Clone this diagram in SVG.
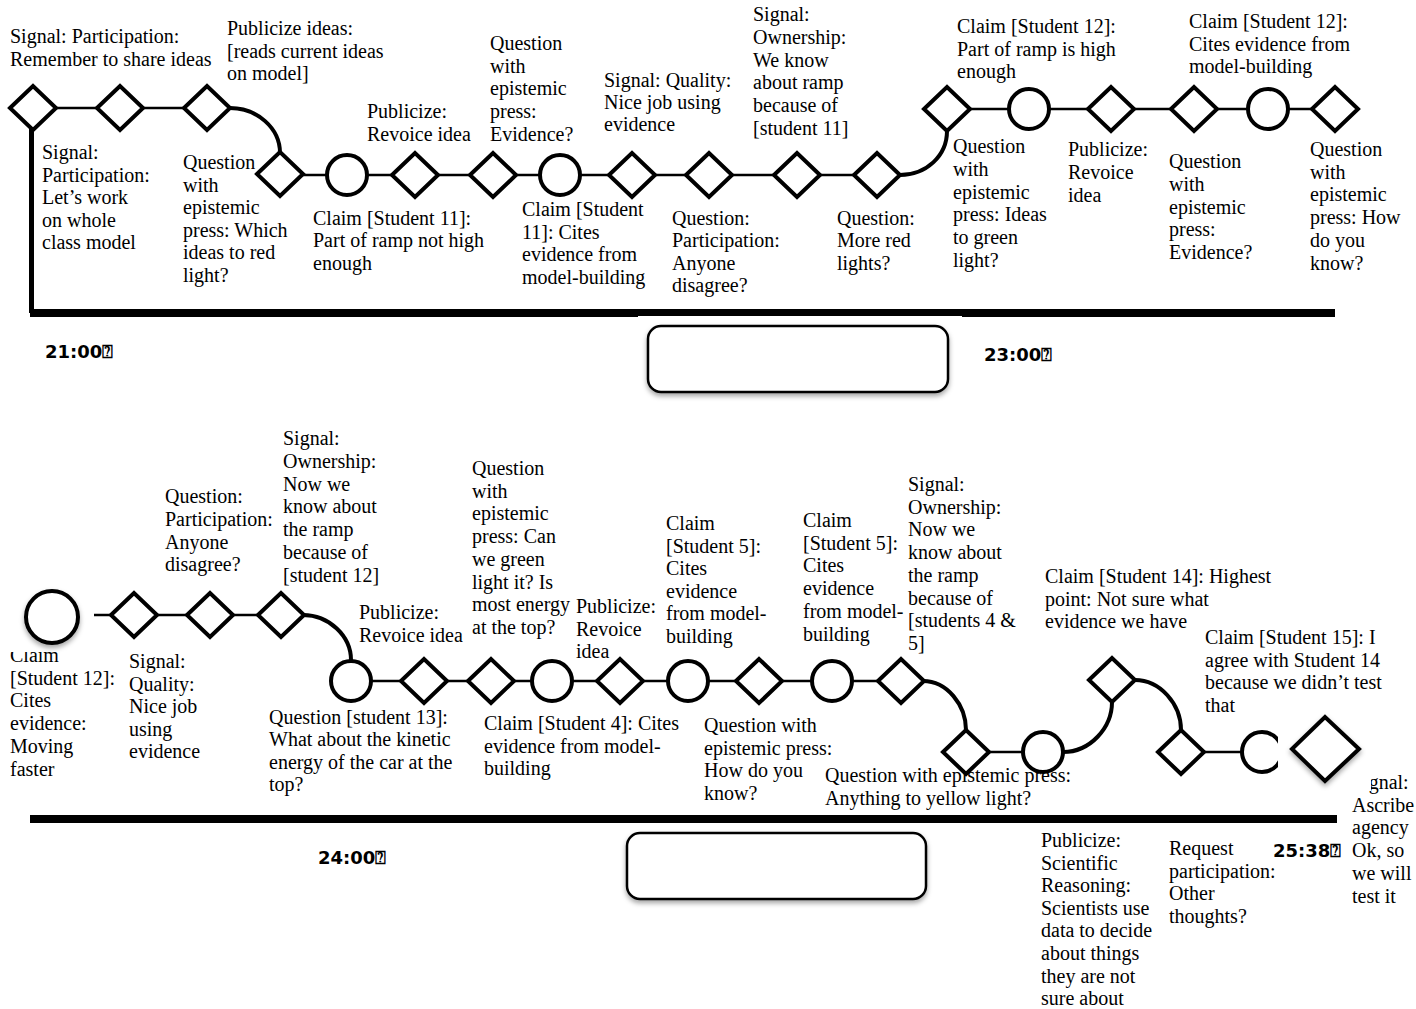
<svg xmlns="http://www.w3.org/2000/svg" xmlns:xlink="http://www.w3.org/1999/xlink" width="1416" height="1009" viewBox="0 0 1416 1009">
<style>
.t{font-family:"Liberation Serif","Times New Roman",serif;font-size:20px;fill:#000}
.tm{font-family:"DejaVu Sans",sans-serif;font-size:18px;font-weight:bold;fill:#000}
.d{fill:#fff;stroke:#000;stroke-width:4;stroke-linejoin:miter}
.c{fill:#fff;stroke:#000;stroke-width:4}
.ln{stroke:#000;stroke-width:2.5;fill:none}
.cv{stroke:#000;stroke-width:4;fill:none}
.box{fill:#fff;stroke:#000;stroke-width:2.5}
</style>
<defs>
<path id="dia" d="M-23,0 L0,-22 L23,0 L0,22 Z"/>
<filter id="sh" x="-30%" y="-30%" width="160%" height="170%">
<feDropShadow dx="0" dy="3" stdDeviation="2.5" flood-color="#000" flood-opacity="0.35"/>
</filter>
</defs>
<rect width="1416" height="1009" fill="#fff"/>

<g id="labels">
<text class="t" x="10" y="43"><tspan x="10">Signal: Participation:</tspan><tspan x="10" dy="22.5">Remember to share ideas</tspan></text>
<text class="t" x="227" y="35"><tspan x="227">Publicize ideas:</tspan><tspan x="227" dy="22.5">[reads current ideas</tspan><tspan x="227" dy="22.5">on model]</tspan></text>
<text class="t" x="42" y="159"><tspan x="42">Signal:</tspan><tspan x="42" dy="22.5">Participation:</tspan><tspan x="42" dy="22.5">Let’s work</tspan><tspan x="42" dy="22.5">on whole</tspan><tspan x="42" dy="22.5">class model</tspan></text>
<text class="t" x="183" y="169"><tspan x="183">Question</tspan><tspan x="183" dy="22.6">with</tspan><tspan x="183" dy="22.6">epistemic</tspan><tspan x="183" dy="22.6">press: Which</tspan><tspan x="183" dy="22.6">ideas to red</tspan><tspan x="183" dy="22.6">light?</tspan></text>
<text class="t" x="367" y="118"><tspan x="367">Publicize:</tspan><tspan x="367" dy="22.6">Revoice idea</tspan></text>
<text class="t" x="313" y="225"><tspan x="313">Claim [Student 11]:</tspan><tspan x="313" dy="22.4">Part of ramp not high</tspan><tspan x="313" dy="22.4">enough</tspan></text>
<text class="t" x="490" y="50"><tspan x="490">Question</tspan><tspan x="490" dy="22.7">with</tspan><tspan x="490" dy="22.7">epistemic</tspan><tspan x="490" dy="22.7">press:</tspan><tspan x="490" dy="22.7">Evidence?</tspan></text>
<text class="t" x="604" y="87"><tspan x="604">Signal: Quality:</tspan><tspan x="604" dy="22">Nice job using</tspan><tspan x="604" dy="22">evidence</tspan></text>
<text class="t" x="753" y="21"><tspan x="753">Signal:</tspan><tspan x="753" dy="22.8">Ownership:</tspan><tspan x="753" dy="22.8">We know</tspan><tspan x="753" dy="22.8">about ramp</tspan><tspan x="753" dy="22.8">because of</tspan><tspan x="753" dy="22.8">[student 11]</tspan></text>
<text class="t" x="522" y="216"><tspan x="522">Claim [Student</tspan><tspan x="522" dy="22.7">11]: Cites</tspan><tspan x="522" dy="22.7">evidence from</tspan><tspan x="522" dy="22.7">model-building</tspan></text>
<text class="t" x="672" y="225"><tspan x="672">Question:</tspan><tspan x="672" dy="22.3">Participation:</tspan><tspan x="672" dy="22.3">Anyone</tspan><tspan x="672" dy="22.3">disagree?</tspan></text>
<text class="t" x="837" y="225"><tspan x="837">Question:</tspan><tspan x="837" dy="22.3">More red</tspan><tspan x="837" dy="22.3">lights?</tspan></text>
<text class="t" x="957" y="33"><tspan x="957">Claim [Student 12]:</tspan><tspan x="957" dy="22.5">Part of ramp is high</tspan><tspan x="957" dy="22.5">enough</tspan></text>
<text class="t" x="1189" y="28"><tspan x="1189">Claim [Student 12]:</tspan><tspan x="1189" dy="22.5">Cites evidence from</tspan><tspan x="1189" dy="22.5">model-building</tspan></text>
<text class="t" x="953" y="153"><tspan x="953">Question</tspan><tspan x="953" dy="22.8">with</tspan><tspan x="953" dy="22.8">epistemic</tspan><tspan x="953" dy="22.8">press: Ideas</tspan><tspan x="953" dy="22.8">to green</tspan><tspan x="953" dy="22.8">light?</tspan></text>
<text class="t" x="1068" y="156"><tspan x="1068">Publicize:</tspan><tspan x="1068" dy="22.8">Revoice</tspan><tspan x="1068" dy="22.8">idea</tspan></text>
<text class="t" x="1169" y="168"><tspan x="1169">Question</tspan><tspan x="1169" dy="22.8">with</tspan><tspan x="1169" dy="22.8">epistemic</tspan><tspan x="1169" dy="22.8">press:</tspan><tspan x="1169" dy="22.8">Evidence?</tspan></text>
<text class="t" x="1310" y="156"><tspan x="1310">Question</tspan><tspan x="1310" dy="22.7">with</tspan><tspan x="1310" dy="22.7">epistemic</tspan><tspan x="1310" dy="22.7">press: How</tspan><tspan x="1310" dy="22.7">do you</tspan><tspan x="1310" dy="22.7">know?</tspan></text>

<text class="t" x="10" y="662"><tspan x="10">Claim</tspan><tspan x="10" dy="22.7">[Student 12]:</tspan><tspan x="10" dy="22.7">Cites</tspan><tspan x="10" dy="22.7">evidence:</tspan><tspan x="10" dy="22.7">Moving</tspan><tspan x="10" dy="22.7">faster</tspan></text>
<text class="t" x="129" y="668"><tspan x="129">Signal:</tspan><tspan x="129" dy="22.6">Quality:</tspan><tspan x="129" dy="22.6">Nice job</tspan><tspan x="129" dy="22.6">using</tspan><tspan x="129" dy="22.6">evidence</tspan></text>
<text class="t" x="165" y="503"><tspan x="165">Question:</tspan><tspan x="165" dy="22.8">Participation:</tspan><tspan x="165" dy="22.8">Anyone</tspan><tspan x="165" dy="22.8">disagree?</tspan></text>
<text class="t" x="283" y="445"><tspan x="283">Signal:</tspan><tspan x="283" dy="22.8">Ownership:</tspan><tspan x="283" dy="22.8">Now we</tspan><tspan x="283" dy="22.8">know about</tspan><tspan x="283" dy="22.8">the ramp</tspan><tspan x="283" dy="22.8">because of</tspan><tspan x="283" dy="22.8">[student 12]</tspan></text>
<text class="t" x="359" y="619"><tspan x="359">Publicize:</tspan><tspan x="359" dy="22.7">Revoice idea</tspan></text>
<text class="t" x="269" y="724"><tspan x="269">Question [student 13]:</tspan><tspan x="269" dy="22.3">What about the kinetic</tspan><tspan x="269" dy="22.3">energy of the car at the</tspan><tspan x="269" dy="22.3">top?</tspan></text>
<text class="t" x="472" y="475"><tspan x="472">Question</tspan><tspan x="472" dy="22.7">with</tspan><tspan x="472" dy="22.7">epistemic</tspan><tspan x="472" dy="22.7">press: Can</tspan><tspan x="472" dy="22.7">we green</tspan><tspan x="472" dy="22.7">light it? Is</tspan><tspan x="472" dy="22.7">most energy</tspan><tspan x="472" dy="22.7">at the top?</tspan></text>
<text class="t" x="576" y="613"><tspan x="576">Publicize:</tspan><tspan x="576" dy="22.6">Revoice</tspan><tspan x="576" dy="22.6">idea</tspan></text>
<text class="t" x="666" y="530"><tspan x="666">Claim</tspan><tspan x="666" dy="22.6">[Student 5]:</tspan><tspan x="666" dy="22.6">Cites</tspan><tspan x="666" dy="22.6">evidence</tspan><tspan x="666" dy="22.6">from model-</tspan><tspan x="666" dy="22.6">building</tspan></text>
<text class="t" x="803" y="527"><tspan x="803">Claim</tspan><tspan x="803" dy="22.7">[Student 5]:</tspan><tspan x="803" dy="22.7">Cites</tspan><tspan x="803" dy="22.7">evidence</tspan><tspan x="803" dy="22.7">from model-</tspan><tspan x="803" dy="22.7">building</tspan></text>
<text class="t" x="484" y="730"><tspan x="484">Claim [Student 4]: Cites</tspan><tspan x="484" dy="22.6">evidence from model-</tspan><tspan x="484" dy="22.6">building</tspan></text>
<text class="t" x="704" y="732"><tspan x="704">Question with</tspan><tspan x="704" dy="22.5">epistemic press:</tspan><tspan x="704" dy="22.5">How do you</tspan><tspan x="704" dy="22.5">know?</tspan></text>
<text class="t" x="825" y="782"><tspan x="825">Question with epistemic press:</tspan><tspan x="825" dy="22.6">Anything to yellow light?</tspan></text>
<text class="t" x="908" y="491"><tspan x="908">Signal:</tspan><tspan x="908" dy="22.7">Ownership:</tspan><tspan x="908" dy="22.7">Now we</tspan><tspan x="908" dy="22.7">know about</tspan><tspan x="908" dy="22.7">the ramp</tspan><tspan x="908" dy="22.7">because of</tspan><tspan x="908" dy="22.7">[students 4 &amp;</tspan><tspan x="908" dy="22.7">5]</tspan></text>
<text class="t" x="1045" y="583"><tspan x="1045">Claim [Student 14]: Highest</tspan><tspan x="1045" dy="22.7">point: Not sure what</tspan><tspan x="1045" dy="22.7">evidence we have</tspan></text>
<text class="t" x="1205" y="644"><tspan x="1205">Claim [Student 15]: I</tspan><tspan x="1205" dy="22.7">agree with Student 14</tspan><tspan x="1205" dy="22.7">because we didn’t test</tspan><tspan x="1205" dy="22.7">that</tspan></text>
<text class="t" x="1041" y="847"><tspan x="1041">Publicize:</tspan><tspan x="1041" dy="22.6">Scientific</tspan><tspan x="1041" dy="22.6">Reasoning:</tspan><tspan x="1041" dy="22.6">Scientists use</tspan><tspan x="1041" dy="22.6">data to decide</tspan><tspan x="1041" dy="22.6">about things</tspan><tspan x="1041" dy="22.6">they are not</tspan><tspan x="1041" dy="22.6">sure about</tspan></text>
<text class="t" x="1169" y="855"><tspan x="1169">Request</tspan><tspan x="1169" dy="22.7">participation:</tspan><tspan x="1169" dy="22.7">Other</tspan><tspan x="1169" dy="22.7">thoughts?</tspan></text>
<text class="t" x="1352" y="789"><tspan x="1352">Signal:</tspan><tspan x="1352" dy="22.7">Ascribe</tspan><tspan x="1352" dy="22.7">agency</tspan><tspan x="1352" dy="22.7">Ok, so</tspan><tspan x="1352" dy="22.7">we will</tspan><tspan x="1352" dy="22.7">test it</tspan></text>

<text class="tm" x="45" y="358">21:00&#x2370;</text>
<text class="tm" x="984" y="361">23:00&#x2370;</text>
<text class="tm" x="318" y="864">24:00&#x2370;</text>
<text class="tm" x="1273" y="857">25:38&#x2370;</text>
</g>

<g id="timeline">
<rect x="30" y="309" width="1305" height="8" fill="#000"/>
<rect x="29" y="128" width="5" height="185" fill="#000"/>
<rect x="30" y="815" width="1307" height="8" fill="#000"/>
</g>

<g id="connectors">
<line class="ln" x1="56" y1="108" x2="97" y2="108"/>
<line class="ln" x1="143" y1="108" x2="184" y2="108"/>
<path class="cv" d="M230,108 C257,108 280,128 280,153"/>
<line class="ln" x1="302" y1="175" x2="855" y2="175"/>
<path class="cv" d="M900,175 C926,175 947,156 947,131"/>
<line class="ln" x1="969" y1="109" x2="1313" y2="109"/>
<line class="ln" x1="94" y1="615" x2="259" y2="615"/>
<path class="cv" d="M303,615 C329,615 351,636 351,660"/>
<line class="ln" x1="372" y1="681" x2="880" y2="681"/>
<path class="cv" d="M923,681 C947,681 966,705 966,730"/>
<line class="ln" x1="989" y1="752" x2="1023" y2="752"/>
<path class="cv" d="M1063,752 C1090,752 1112,728 1112,702"/>
<path class="cv" d="M1135,680 C1160,680 1181,704 1181,730"/>
<line class="ln" x1="1204" y1="752" x2="1242" y2="752"/>
</g>

<g id="nodes">
<g id="t1"><use href="#dia" class="d" x="33" y="108"/></g>
<g id="t2"><use href="#dia" class="d" x="120" y="108"/></g>
<g id="t3"><use href="#dia" class="d" x="207" y="108"/></g>
<g id="t4"><use href="#dia" class="d" x="280" y="174"/></g>
<g id="t5"><circle class="c" cx="347" cy="175" r="20"/></g>
<g id="t6"><use href="#dia" class="d" x="415" y="175"/></g>
<g id="t7"><use href="#dia" class="d" x="493" y="175"/></g>
<g id="t8"><circle class="c" cx="560" cy="175" r="20"/></g>
<g id="t9"><use href="#dia" class="d" x="632" y="175"/></g>
<g id="t10"><use href="#dia" class="d" x="709" y="175"/></g>
<g id="t11"><use href="#dia" class="d" x="797" y="175"/></g>
<g id="t12"><use href="#dia" class="d" x="877" y="175"/></g>
<g id="t13"><use href="#dia" class="d" x="947" y="109"/></g>
<g id="t14"><circle class="c" cx="1029" cy="109" r="20"/></g>
<g id="t15"><use href="#dia" class="d" x="1111" y="109"/></g>
<g id="t16"><use href="#dia" class="d" x="1194" y="109"/></g>
<g id="t17"><circle class="c" cx="1268" cy="109" r="20"/></g>
<g id="t18"><use href="#dia" class="d" x="1335" y="109"/></g>
<g id="box1"><rect x="638" y="316" width="324" height="4" fill="#fff"/><rect class="box" x="648" y="326" width="300" height="66" rx="13" filter="url(#sh)"/></g>

<g id="b1"><rect x="0" y="584" width="93" height="68" fill="#fff"/><circle class="c" cx="52" cy="617" r="26" filter="url(#sh)"/></g>
<g id="b2"><use href="#dia" class="d" x="134" y="615"/></g>
<g id="b3"><use href="#dia" class="d" x="210" y="615"/></g>
<g id="b4"><use href="#dia" class="d" x="281" y="615"/></g>
<g id="b5"><circle class="c" cx="351" cy="681" r="20"/></g>
<g id="b6"><use href="#dia" class="d" x="424" y="681"/></g>
<g id="b7"><use href="#dia" class="d" x="491" y="681"/></g>
<g id="b8"><circle class="c" cx="552" cy="681" r="20"/></g>
<g id="b9"><use href="#dia" class="d" x="620" y="681"/></g>
<g id="b10"><circle class="c" cx="688" cy="681" r="20"/></g>
<g id="b11"><use href="#dia" class="d" x="759" y="681"/></g>
<g id="b12"><circle class="c" cx="832" cy="681" r="20"/></g>
<g id="b13"><use href="#dia" class="d" x="901" y="681"/></g>
<g id="b14"><use href="#dia" class="d" x="966" y="752"/></g>
<g id="b15"><circle class="c" cx="1043" cy="752" r="20"/></g>
<g id="b16"><use href="#dia" class="d" x="1112" y="680"/></g>
<g id="b17"><use href="#dia" class="d" x="1181" y="752"/></g>
<g id="b18"><circle class="c" cx="1262" cy="752" r="20"/></g>
<g id="b19"><rect x="1278" y="706" width="93" height="85" fill="#fff"/><path class="d" d="M1292,749 L1325,717 L1359,749 L1325,781 Z" filter="url(#sh)"/></g>
<g id="box2"><rect class="box" x="627" y="833" width="299" height="66" rx="13" filter="url(#sh)"/></g>
</g>
</svg>
